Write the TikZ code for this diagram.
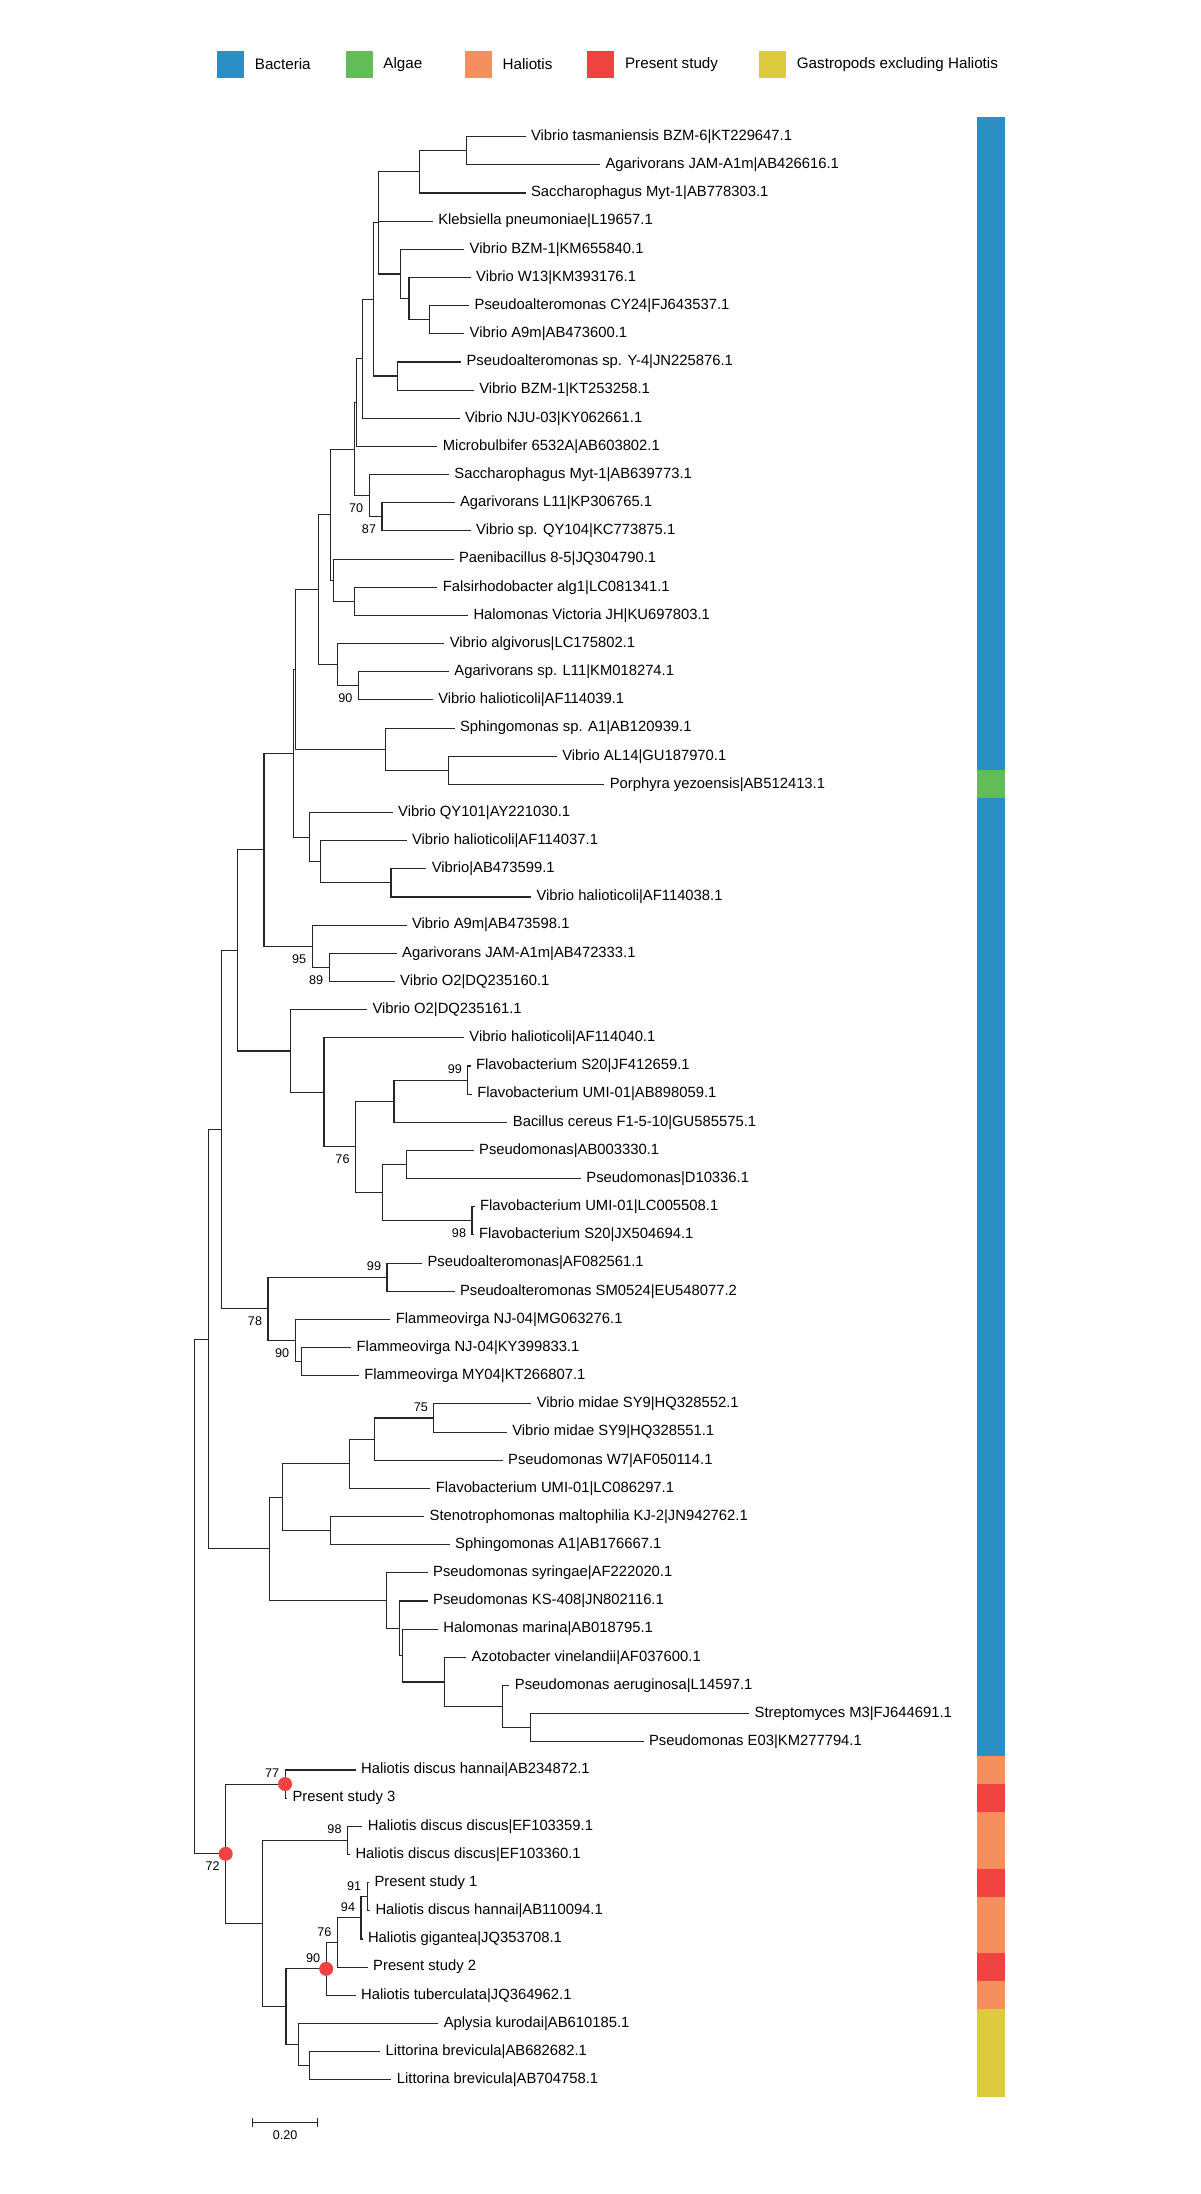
\documentclass[tikz,border=0pt]{standalone}
\usepackage{fontspec}
\setmainfont{Liberation Sans}
\usepackage{tikz}
\usetikzlibrary{calc}
\usetikzlibrary{positioning}

\definecolor{bacteria}{HTML}{2A8FC4}
\definecolor{algae}{HTML}{62BC58}
\definecolor{haliotis}{HTML}{F68F5E}
\definecolor{present}{HTML}{EE4340}
\definecolor{gastropod}{HTML}{DDCA3D}

\begin{document}
\begin{tikzpicture}
		[
		x=0.5pt, y=-14.08pt,
		font=\fontsize{7.4}{9}\selectfont,
		branch/.style={draw=black!85,line width=0.55pt,line cap=rect}
		]
		
		% Node styles: leaf labels, bootstrap values, marked nodes, legend
		\tikzstyle{leaf}=[anchor=west,inner xsep=2.8pt,inner ysep=0pt];
		\tikzstyle{boot}=[font=\fontsize{6.3}{7}\selectfont,inner sep=0pt];
		\tikzstyle{boot below}=[boot,xshift=-6.5pt,yshift=-6.2pt];
		\tikzstyle{boot above}=[boot,xshift=-6.5pt,yshift=5.4pt];
		\tikzstyle{red dot}=[circle,fill=present,inner sep=0pt,minimum size=7pt];
		\tikzstyle{keybox}=[inner sep=0pt,minimum size=13.5pt];
		\tikzstyle{keytext}=[font=\fontsize{7.6}{9}\selectfont,inner sep=0pt];
		
		\useasboundingbox (0,-3.854) rectangle (1200,74.058);
		
		% Legend
		\node[keybox,fill=bacteria](kbac)at(230.6,-1.571){};
		\node[keytext,right=5pt of kbac](tbac){Bacteria};
		\node[keybox,fill=algae](kalg)at(359.1,-1.571){};
		\node[keytext,right=5pt of kalg](talg){Algae};
		\node[keybox,fill=haliotis](khal)at(478.3,-1.571){};
		\node[keytext,right=5pt of khal](thal){Haliotis};
		\node[keybox,fill=present](kpre)at(600.8,-1.571){};
		\node[keytext,right=5pt of kpre](tpre){Present study};
		\node[keybox,fill=gastropod](kgas)at(772.6,-1.571){};
		\node[keytext,right=5pt of kgas](tgas){Gastropods excluding Haliotis};
		
		% Leaves
		\node[leaf](l1)at(525.0,1){Vibrio tasmaniensis BZM-6|KT229647.1};
		\node[leaf](l2)at(599.6,2){Agarivorans JAM-A1m|AB426616.1};
		\node[leaf](l3)at(525.0,3){Saccharophagus Myt-1|AB778303.1};
		\node[leaf](l4)at(432.3,4){Klebsiella pneumoniae|L19657.1};
		\node[leaf](l5)at(463.7,5){Vibrio BZM-1|KM655840.1};
		\node[leaf](l6)at(470.2,6){Vibrio W13|KM393176.1};
		\node[leaf](l7)at(468.7,7){Pseudoalteromonas CY24|FJ643537.1};
		\node[leaf](l8)at(463.7,8){Vibrio A9m|AB473600.1};
		\node[leaf](l9)at(460.6,9){Pseudoalteromonas sp. Y-4|JN225876.1};
		\node[leaf](l10)at(473.3,10){Vibrio BZM-1|KT253258.1};
		\node[leaf](l11)at(459.1,11){Vibrio NJU-03|KY062661.1};
		\node[leaf](l12)at(436.9,12){Microbulbifer 6532A|AB603802.1};
		\node[leaf](l13)at(448.4,13){Saccharophagus Myt-1|AB639773.1};
		\node[leaf](l14)at(454.1,14){Agarivorans L11|KP306765.1};
		\node[leaf](l15)at(470.2,15){Vibrio sp. QY104|KC773875.1};
		\node[leaf](l16)at(453.0,16){Paenibacillus 8-5|JQ304790.1};
		\node[leaf](l17)at(436.9,17){Falsirhodobacter alg1|LC081341.1};
		\node[leaf](l18)at(467.5,18){Halomonas Victoria JH|KU697803.1};
		\node[leaf](l19)at(443.8,19){Vibrio algivorus|LC175802.1};
		\node[leaf](l20)at(448.4,20){Agarivorans sp. L11|KM018274.1};
		\node[leaf](l21)at(432.3,21){Vibrio halioticoli|AF114039.1};
		\node[leaf](l22)at(454.1,22){Sphingomonas sp. A1|AB120939.1};
		\node[leaf](l23)at(556.3,23){Vibrio AL14|GU187970.1};
		\node[leaf](l24)at(603.8,24){Porphyra yezoensis|AB512413.1};
		\node[leaf](l25)at(392.2,25){Vibrio QY101|AY221030.1};
		\node[leaf](l26)at(406.1,26){Vibrio halioticoli|AF114037.1};
		\node[leaf](l27)at(425.8,27){Vibrio|AB473599.1};
		\node[leaf](l28)at(530.6,28){Vibrio halioticoli|AF114038.1};
		\node[leaf](l29)at(406.1,29){Vibrio A9m|AB473598.1};
		\node[leaf](l30)at(396.2,30){Agarivorans JAM-A1m|AB472333.1};
		\node[leaf](l31)at(394.2,31){Vibrio O2|DQ235160.1};
		\node[leaf](l32)at(366.5,32){Vibrio O2|DQ235161.1};
		\node[leaf](l33)at(463.4,33){Vibrio halioticoli|AF114040.1};
		\node[leaf](l34)at(470.0,34){Flavobacterium S20|JF412659.1};
		\node[leaf](l35)at(471.3,35){Flavobacterium UMI-01|AB898059.1};
		\node[leaf](l36)at(506.9,36){Bacillus cereus F1-5-10|GU585575.1};
		\node[leaf](l37)at(473.2,37){Pseudomonas|AB003330.1};
		\node[leaf](l38)at(580.4,38){Pseudomonas|D10336.1};
		\node[leaf](l39)at(474.0,39){Flavobacterium UMI-01|LC005508.1};
		\node[leaf](l40)at(473.0,40){Flavobacterium S20|JX504694.1};
		\node[leaf](l41)at(421.5,41){Pseudoalteromonas|AF082561.1};
		\node[leaf](l42)at(454.0,42){Pseudoalteromonas SM0524|EU548077.2};
		\node[leaf](l43)at(389.8,43){Flammeovirga NJ-04|MG063276.1};
		\node[leaf](l44)at(350.7,44){Flammeovirga NJ-04|KY399833.1};
		\node[leaf](l45)at(358.4,45){Flammeovirga MY04|KT266807.1};
		\node[leaf](l46)at(530.8,46){Vibrio midae SY9|HQ328552.1};
		\node[leaf](l47)at(506.3,47){Vibrio midae SY9|HQ328551.1};
		\node[leaf](l48)at(502.2,48){Pseudomonas W7|AF050114.1};
		\node[leaf](l49)at(429.8,49){Flavobacterium UMI-01|LC086297.1};
		\node[leaf](l50)at(423.7,50){Stenotrophomonas maltophilia KJ-2|JN942762.1};
		\node[leaf](l51)at(449.2,51){Sphingomonas A1|AB176667.1};
		\node[leaf](l52)at(427.2,52){Pseudomonas syringae|AF222020.1};
		\node[leaf](l53)at(427.2,53){Pseudomonas KS-408|JN802116.1};
		\node[leaf](l54)at(437.4,54){Halomonas marina|AB018795.1};
		\node[leaf](l55)at(465.5,55){Azotobacter vinelandii|AF037600.1};
		\node[leaf](l56)at(508.9,56){Pseudomonas aeruginosa|L14597.1};
		\node[leaf](l57)at(748.7,57){Streptomyces M3|FJ644691.1};
		\node[leaf](l58)at(643.0,58){Pseudomonas E03|KM277794.1};
		\node[leaf](l59)at(355.2,59){Haliotis discus hannai|AB234872.1};
		\node[leaf](l60)at(286.5,60){Present study 3};
		\node[leaf](l61)at(361.9,61){Haliotis discus discus|EF103359.1};
		\node[leaf](l62)at(349.5,62){Haliotis discus discus|EF103360.1};
		\node[leaf](l63)at(368.5,63){Present study 1};
		\node[leaf](l64)at(369.5,64){Haliotis discus hannai|AB110094.1};
		\node[leaf](l65)at(362.0,65){Haliotis gigantea|JQ353708.1};
		\node[leaf](l66)at(367.2,66){Present study 2};
		\node[leaf](l67)at(355.2,67){Haliotis tuberculata|JQ364962.1};
		\node[leaf](l68)at(437.8,68){Aplysia kurodai|AB610185.1};
		\node[leaf](l69)at(379.7,69){Littorina brevicula|AB682682.1};
		\node[leaf](l70)at(390.9,70){Littorina brevicula|AB704758.1};
		
		% Inner nodes of the tree
		\coordinate(n1-2)at(466.4,1.5);
		\coordinate(n1-3)at(419.7,2.25);
		\coordinate(n7-8)at(429.3,7.5);
		\coordinate(n6-8)at(409.0,6.75);
		\coordinate(n5-8)at(400.9,5.875);
		\coordinate(n1-8)at(378.7,4.0625);
		\coordinate(n9-10)at(397.6,9.5);
		\coordinate(n1-10)at(373.4,6.7813);
		\coordinate(n1-11)at(362.7,8.8906);
		\coordinate(n1-12)at(356.7,10.4453);
		\coordinate(n14-15)at(382.0,14.5);
		\coordinate(n13-15)at(369.2,13.75);
		\coordinate(n1-15)at(354.5,12.0977);
		\coordinate(n17-18)at(354.5,17.5);
		\coordinate(n16-18)at(333.3,16.75);
		\coordinate(n1-18)at(330.8,14.4238);
		\coordinate(n20-21)at(358.4,20.5);
		\coordinate(n19-21)at(337.8,19.75);
		\coordinate(n1-21)at(318.3,17.0869);
		\coordinate(n23-24)at(448.4,23.5);
		\coordinate(n22-24)at(385.1,22.75);
		\coordinate(n1-24)at(295.6,19.9185);
		\coordinate(n27-28)at(391.0,27.5);
		\coordinate(n26-28)at(320.3,26.75);
		\coordinate(n25-28)at(309.2,25.875);
		\coordinate(n1-28)at(293.6,22.8967);
		\coordinate(n30-31)at(329.2,30.5);
		\coordinate(n29-31)at(312.1,29.75);
		\coordinate(n1-31)at(264.0,26.3234);
		\coordinate(n34-35)at(467.8,34.5);
		\coordinate(n34-36)at(394.0,35.25);
		\coordinate(n37-38)at(406.2,37.5);
		\coordinate(n39-40)at(472.0,39.5);
		\coordinate(n37-40)at(382.4,38.5);
		\coordinate(n34-40)at(355.5,36.875);
		\coordinate(n33-40)at(324.0,34.9375);
		\coordinate(n32-40)at(290.9,33.4688);
		\coordinate(n1-40)at(237.7,29.8961);
		\coordinate(n41-42)at(387.0,41.5);
		\coordinate(n44-45)at(301.8,44.5);
		\coordinate(n43-45)at(295.2,43.75);
		\coordinate(n41-45)at(268.0,42.625);
		\coordinate(n1-45)at(221.7,36.2606);
		\coordinate(n46-47)at(433.9,46.5);
		\coordinate(n46-48)at(374.7,47.25);
		\coordinate(n46-49)at(349.2,48.125);
		\coordinate(n50-51)at(330.5,50.5);
		\coordinate(n46-51)at(282.8,49.3125);
		\coordinate(n57-58)at(530.6,57.5);
		\coordinate(n56-58)at(502.3,56.75);
		\coordinate(n55-58)at(444.1,55.875);
		\coordinate(n54-58)at(402.8,54.9375);
		\coordinate(n53-58)at(399.2,53.9688);
		\coordinate(n52-58)at(386.5,52.9844);
		\coordinate(n46-58)at(269.7,51.1484);
		\coordinate(n1-58)at(208.2,43.7045);
		\coordinate(n59-60)at(285.1,59.5);
		\coordinate(n61-62)at(347.5,61.5);
		\coordinate(n63-64)at(367.2,63.5);
		\coordinate(n63-65)at(361.0,64.25);
		\coordinate(n63-66)at(337.3,65.125);
		\coordinate(n63-67)at(326.2,66.0625);
		\coordinate(n69-70)at(309.6,69.5);
		\coordinate(n68-70)at(298.5,68.75);
		\coordinate(n63-70)at(286.0,67.4063);
		\coordinate(n61-70)at(262.8,64.4531);
		\coordinate(n59-70)at(225.7,61.9766);
		\coordinate(root)at(194.3,52.8405);
		
		% Branches, one draw per inner node
		\draw[branch](n1-2)|-(l1.west) (n1-2)|-(l2.west);
		\draw[branch](n1-3)|-(n1-2) (n1-3)|-(l3.west);
		\draw[branch](n7-8)|-(l7.west) (n7-8)|-(l8.west);
		\draw[branch](n6-8)|-(l6.west) (n6-8)|-(n7-8);
		\draw[branch](n5-8)|-(l5.west) (n5-8)|-(n6-8);
		\draw[branch](n1-8)|-(n1-3) (n1-8)|-(l4.west) (n1-8)|-(n5-8);
		\draw[branch](n9-10)|-(l9.west) (n9-10)|-(l10.west);
		\draw[branch](n1-10)|-(n1-8) (n1-10)|-(n9-10);
		\draw[branch](n1-11)|-(n1-10) (n1-11)|-(l11.west);
		\draw[branch](n1-12)|-(n1-11) (n1-12)|-(l12.west);
		\draw[branch](n14-15)|-(l14.west) (n14-15)|-(l15.west);
		\draw[branch](n13-15)|-(l13.west) (n13-15)|-(n14-15);
		\draw[branch](n1-15)|-(n1-12) (n1-15)|-(n13-15);
		\draw[branch](n17-18)|-(l17.west) (n17-18)|-(l18.west);
		\draw[branch](n16-18)|-(l16.west) (n16-18)|-(n17-18);
		\draw[branch](n1-18)|-(n1-15) (n1-18)|-(n16-18);
		\draw[branch](n20-21)|-(l20.west) (n20-21)|-(l21.west);
		\draw[branch](n19-21)|-(l19.west) (n19-21)|-(n20-21);
		\draw[branch](n1-21)|-(n1-18) (n1-21)|-(n19-21);
		\draw[branch](n23-24)|-(l23.west) (n23-24)|-(l24.west);
		\draw[branch](n22-24)|-(l22.west) (n22-24)|-(n23-24);
		\draw[branch](n1-24)|-(n1-21) (n1-24)|-(n22-24);
		\draw[branch](n27-28)|-(l27.west) (n27-28)|-(l28.west);
		\draw[branch](n26-28)|-(l26.west) (n26-28)|-(n27-28);
		\draw[branch](n25-28)|-(l25.west) (n25-28)|-(n26-28);
		\draw[branch](n1-28)|-(n1-24) (n1-28)|-(n25-28);
		\draw[branch](n30-31)|-(l30.west) (n30-31)|-(l31.west);
		\draw[branch](n29-31)|-(l29.west) (n29-31)|-(n30-31);
		\draw[branch](n1-31)|-(n1-28) (n1-31)|-(n29-31);
		\draw[branch](n34-35)|-(l34.west) (n34-35)|-(l35.west);
		\draw[branch](n34-36)|-(n34-35) (n34-36)|-(l36.west);
		\draw[branch](n37-38)|-(l37.west) (n37-38)|-(l38.west);
		\draw[branch](n39-40)|-(l39.west) (n39-40)|-(l40.west);
		\draw[branch](n37-40)|-(n37-38) (n37-40)|-(n39-40);
		\draw[branch](n34-40)|-(n34-36) (n34-40)|-(n37-40);
		\draw[branch](n33-40)|-(l33.west) (n33-40)|-(n34-40);
		\draw[branch](n32-40)|-(l32.west) (n32-40)|-(n33-40);
		\draw[branch](n1-40)|-(n1-31) (n1-40)|-(n32-40);
		\draw[branch](n41-42)|-(l41.west) (n41-42)|-(l42.west);
		\draw[branch](n44-45)|-(l44.west) (n44-45)|-(l45.west);
		\draw[branch](n43-45)|-(l43.west) (n43-45)|-(n44-45);
		\draw[branch](n41-45)|-(n41-42) (n41-45)|-(n43-45);
		\draw[branch](n1-45)|-(n1-40) (n1-45)|-(n41-45);
		\draw[branch](n46-47)|-(l46.west) (n46-47)|-(l47.west);
		\draw[branch](n46-48)|-(n46-47) (n46-48)|-(l48.west);
		\draw[branch](n46-49)|-(n46-48) (n46-49)|-(l49.west);
		\draw[branch](n50-51)|-(l50.west) (n50-51)|-(l51.west);
		\draw[branch](n46-51)|-(n46-49) (n46-51)|-(n50-51);
		\draw[branch](n57-58)|-(l57.west) (n57-58)|-(l58.west);
		\draw[branch](n56-58)|-(l56.west) (n56-58)|-(n57-58);
		\draw[branch](n55-58)|-(l55.west) (n55-58)|-(n56-58);
		\draw[branch](n54-58)|-(l54.west) (n54-58)|-(n55-58);
		\draw[branch](n53-58)|-(l53.west) (n53-58)|-(n54-58);
		\draw[branch](n52-58)|-(l52.west) (n52-58)|-(n53-58);
		\draw[branch](n46-58)|-(n46-51) (n46-58)|-(n52-58);
		\draw[branch](n1-58)|-(n1-45) (n1-58)|-(n46-58);
		\draw[branch](n59-60)|-(l59.west) (n59-60)|-(l60.west);
		\draw[branch](n61-62)|-(l61.west) (n61-62)|-(l62.west);
		\draw[branch](n63-64)|-(l63.west) (n63-64)|-(l64.west);
		\draw[branch](n63-65)|-(n63-64) (n63-65)|-(l65.west);
		\draw[branch](n63-66)|-(n63-65) (n63-66)|-(l66.west);
		\draw[branch](n63-67)|-(n63-66) (n63-67)|-(l67.west);
		\draw[branch](n69-70)|-(l69.west) (n69-70)|-(l70.west);
		\draw[branch](n68-70)|-(l68.west) (n68-70)|-(n69-70);
		\draw[branch](n63-70)|-(n63-67) (n63-70)|-(n68-70);
		\draw[branch](n61-70)|-(n61-62) (n61-70)|-(n63-70);
		\draw[branch](n59-70)|-(n59-60) (n59-70)|-(n61-70);
		\draw[branch](root)|-(n1-58) (root)|-(n59-70);
		
		% Marked nodes
		\node[red dot](d59-60)at(n59-60){};
		\node[red dot](d59-70)at(n59-70){};
		\node[red dot](d63-67)at(n63-67){};
		
		% Bootstrap values
		\node[boot below](b13-15)at(n13-15){70};
		\node[boot below](b14-15)at(n14-15){87};
		\node[boot below](b20-21)at(n20-21){90};
		\node[boot below](b29-31)at(n29-31){95};
		\node[boot below](b30-31)at(n30-31){89};
		\node[boot above](b34-35)at(n34-35){99};
		\node[boot below](b34-40)at(n34-40){76};
		\node[boot below](b39-40)at(n39-40){98};
		\node[boot above](b41-42)at(n41-42){99};
		\node[boot below](b41-45)at(n41-45){78};
		\node[boot below](b43-45)at(n43-45){90};
		\node[boot above](b46-47)at(n46-47){75};
		\node[boot above](b59-60)at(n59-60){77};
		\node[boot below](b59-70)at(n59-70){72};
		\node[boot above](b61-62)at(n61-62){98};
		\node[boot above](b63-64)at(n63-64){91};
		\node[boot above](b63-65)at(n63-65){94};
		\node[boot above](b63-66)at(n63-66){76};
		\node[boot above](b63-67)at(n63-67){90};
		
		% Group bar on the right
		\fill[bacteria](977,0.3)rectangle(1005,23.5);
		\fill[algae](977,23.5)rectangle(1005,24.5);
		\fill[bacteria](977,24.5)rectangle(1005,58.5);
		\fill[haliotis](977,58.5)rectangle(1005,59.5);
		\fill[present](977,59.5)rectangle(1005,60.5);
		\fill[haliotis](977,60.5)rectangle(1005,62.5);
		\fill[present](977,62.5)rectangle(1005,63.5);
		\fill[haliotis](977,63.5)rectangle(1005,65.5);
		\fill[present](977,65.5)rectangle(1005,66.5);
		\fill[haliotis](977,66.5)rectangle(1005,67.5);
		\fill[gastropod](977,67.5)rectangle(1005,70.6);
		
		% Scale bar
		\coordinate(s0)at(252.7,71.51);
		\coordinate(s1)at(317.7,71.51);
		\draw[branch,line cap=butt](s0)--(s1);
		\draw[branch,line cap=butt]([yshift=2.3pt]s0)--([yshift=-2.3pt]s0);
		\draw[branch,line cap=butt]([yshift=2.3pt]s1)--([yshift=-2.3pt]s1);
		\node[boot,below=4pt](sbl)at($(s0)!0.5!(s1)$){0.20};
		\end{tikzpicture}
\end{document}
